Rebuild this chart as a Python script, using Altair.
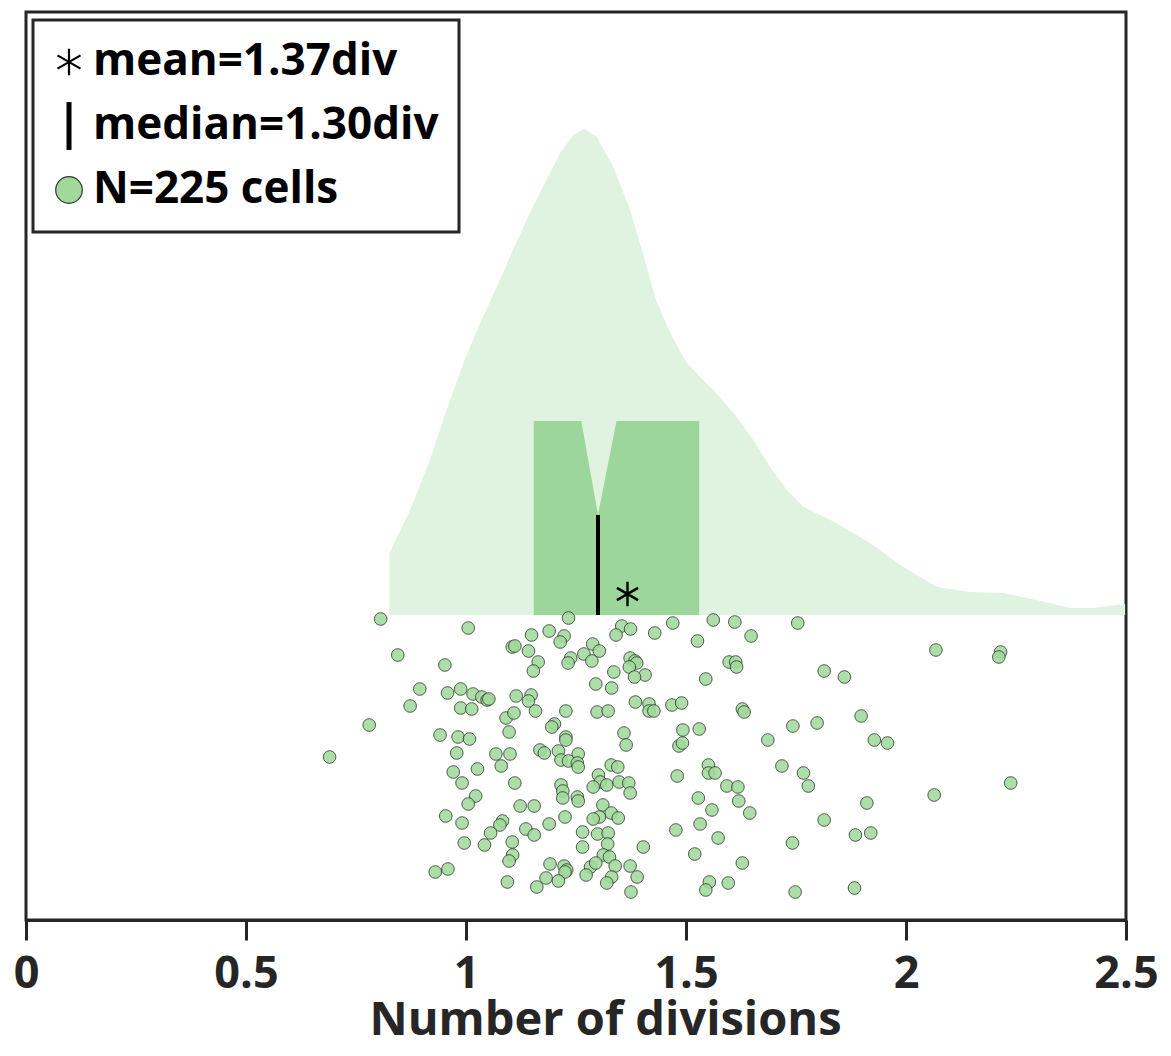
import altair as alt
import pandas as pd

# ---------------- data ----------------
point_x = [0.806, 1.005, 1.105, 1.111, 0.845, 0.952, 0.895, 0.958, 0.988, 1.016,
           1.036, 1.048, 1.052, 1.114, 0.873, 0.988, 1.013, 1.091, 1.109, 0.780,
           0.941, 0.982, 1.008, 1.098, 0.690, 0.979, 1.068, 1.100, 1.080, 0.971,
           1.026, 0.991, 1.111, 1.022, 1.005, 0.954, 0.991, 1.083, 1.077, 1.056,
           0.996, 1.042, 1.105, 1.106, 1.098, 0.930, 0.959, 1.094, 1.123, 1.233,
           1.189, 1.149, 1.223, 1.214, 1.354, 1.374, 1.341, 1.470, 1.429, 1.562,
           1.526, 1.142, 1.164, 1.153, 1.238, 1.232, 1.268, 1.288, 1.303, 1.286,
           1.373, 1.384, 1.388, 1.371, 1.336, 1.407, 1.383, 1.295, 1.331, 1.545,
           1.148, 1.142, 1.158, 1.227, 1.298, 1.323, 1.385, 1.416, 1.416, 1.427,
           1.468, 1.490, 1.201, 1.195, 1.227, 1.359, 1.364, 1.493, 1.530, 1.484,
           1.492, 1.168, 1.178, 1.210, 1.255, 1.216, 1.233, 1.253, 1.255, 1.227,
           1.216, 1.220, 1.220, 1.253, 1.255, 1.330, 1.345, 1.301, 1.305, 1.320,
           1.289, 1.348, 1.370, 1.373, 1.480, 1.551, 1.551, 1.566, 1.155, 1.189,
           1.225, 1.311, 1.330, 1.346, 1.303, 1.289, 1.528, 1.559, 1.532, 1.136,
           1.155, 1.265, 1.299, 1.323, 1.322, 1.265, 1.403, 1.477, 1.573, 1.520,
           1.312, 1.326, 1.339, 1.191, 1.223, 1.229, 1.225, 1.283, 1.295, 1.373,
           1.389, 1.182, 1.210, 1.273, 1.331, 1.320, 1.161, 1.375, 1.553, 1.545,
           1.611, 1.754, 1.648, 1.598, 1.613, 1.615, 1.814, 1.860, 2.068, 2.215,
           2.211, 1.628, 1.632, 1.898, 1.743, 1.798, 1.686, 1.928, 1.958, 1.718,
           1.767, 1.778, 1.593, 1.618, 1.620, 1.645, 1.814, 1.911, 2.064, 2.238,
           1.742, 1.885, 1.920, 1.628, 1.596, 1.748, 1.883]
point_jitter = [-0.04, -0.13, -0.32, -0.31, -0.40, -0.50, -0.74, -0.78, -0.74, -0.79,
                -0.82, -0.85, -0.84, -0.81, -0.91, -0.93, -0.94, -1.03, -0.98, -1.10,
                -1.20, -1.22, -1.24, -1.17, -1.42, -1.38, -1.39, -1.39, -1.51, -1.57,
                -1.54, -1.68, -1.68, -1.81, -1.89, -2.01, -2.08, -2.06, -2.10, -2.18,
                -2.28, -2.30, -2.27, -2.40, -2.46, -2.57, -2.54, -2.67, -1.91, -0.03,
                -0.16, -0.20, -0.21, -0.27, -0.11, -0.14, -0.20, -0.08, -0.18, -0.05,
                -0.26, -0.36, -0.47, -0.56, -0.43, -0.48, -0.39, -0.29, -0.36, -0.46,
                -0.43, -0.46, -0.48, -0.52, -0.57, -0.60, -0.62, -0.69, -0.73, -0.64,
                -0.80, -0.86, -0.96, -0.96, -0.97, -0.96, -0.87, -0.89, -0.96, -0.96,
                -0.90, -0.88, -1.09, -1.12, -1.22, -1.18, -1.30, -1.15, -1.14, -1.31,
                -1.28, -1.35, -1.38, -1.36, -1.39, -1.45, -1.46, -1.48, -1.52, -1.25,
                -1.70, -1.76, -1.83, -1.82, -1.86, -1.50, -1.52, -1.60, -1.67, -1.70,
                -1.72, -1.67, -1.68, -1.78, -1.61, -1.50, -1.58, -1.58, -1.91, -2.09,
                -2.02, -1.90, -1.98, -2.03, -2.02, -2.04, -1.83, -1.95, -2.09, -2.14,
                -2.20, -2.17, -2.19, -2.18, -2.29, -2.32, -2.32, -2.15, -2.23, -2.39,
                -2.40, -2.42, -2.51, -2.49, -2.51, -2.55, -2.57, -2.52, -2.48, -2.51,
                -2.62, -2.63, -2.66, -2.60, -2.62, -2.68, -2.72, -2.77, -2.67, -2.75,
                -0.07, -0.08, -0.21, -0.47, -0.47, -0.52, -0.56, -0.62, -0.35, -0.37,
                -0.42, -0.94, -0.97, -1.01, -1.11, -1.08, -1.25, -1.25, -1.28, -1.51,
                -1.58, -1.71, -1.71, -1.72, -1.86, -1.98, -2.05, -1.88, -1.80, -1.68,
                -2.28, -2.20, -2.18, -2.48, -2.68, -2.77, -2.73]

density_x = [0.826, 0.873, 0.918, 0.956, 0.994, 1.032, 1.070, 1.107, 1.145, 1.183,
             1.214, 1.244, 1.268, 1.297, 1.335, 1.373, 1.395, 1.432, 1.464, 1.502,
             1.539, 1.577, 1.615, 1.653, 1.691, 1.729, 1.767, 1.842, 1.918, 1.994,
             2.070, 2.145, 2.221, 2.297, 2.373, 2.426, 2.498]
density_y = [0.62, 1.05, 1.55, 2.05, 2.52, 2.92, 3.28, 3.65, 4.02, 4.35,
             4.62, 4.80, 4.86, 4.78, 4.48, 4.05, 3.72, 3.15, 2.82, 2.52,
             2.35, 2.18, 1.98, 1.75, 1.48, 1.25, 1.08, 0.92, 0.72, 0.48,
             0.28, 0.23, 0.22, 0.15, 0.07, 0.07, 0.11]

q1, q3 = 1.154, 1.530
median_val = 1.30
notch_lo, notch_hi = 1.262, 1.342
box_top = 1.94
notch_tip = 1.00
mean_val = 1.367
mean_y = 0.21

legend_labels = ["mean=1.37div", "median=1.30div", "N=225 cells"]
tick_values = [0, 0.5, 1, 1.5, 2, 2.5]
x_title = "Number of divisions"

# ---------------- styling ----------------
DENSITY_COLOR = "#e0f2e0"
BOX_COLOR = "#9cd69a"
POINT_FILL = "#a0d99b"
FRAME = "#262626"
FONT = "Open Sans"

ASTERISK = "M0,-1L0,1M-0.866,-0.5L0.866,0.5M-0.866,0.5L0.866,-0.5"
LEG_ASTERISK = "M0,-1L0,1M-0.866,-0.5L0.866,0.5M-0.866,0.5L0.866,-0.5"
LEG_BAR = "M0,-1.8L0,1.8"

x_scale = alt.Scale(domain=[0, 2.5], nice=False, zero=False)
y_scale = alt.Scale(domain=[-3.05, 6.03], nice=False, zero=False)

x_axis = alt.Axis(
    values=tick_values, format="~g", grid=False,
    domainColor=FRAME, domainWidth=3,
    tickColor=FRAME, tickWidth=3, tickSize=20,
    labelFont=FONT, labelFontSize=45, labelFontWeight="bold", labelColor=FRAME,
    labelPadding=11, labelFlush=False, labelOverlap=False,
    title=x_title, titleFont=FONT, titleFontSize=47, titleFontWeight="bold",
    titleColor=FRAME, titleX=579, titleY=114, titleBaseline="alphabetic",
    titleAlign="center",
)


def X(field="x"):
    return alt.X(f"{field}:Q", scale=x_scale, axis=x_axis)


def Y(field="y"):
    return alt.Y(f"{field}:Q", scale=y_scale, axis=None)


df_density = pd.DataFrame({"x": density_x, "y": density_y})
df_box = pd.DataFrame({
    "x": [q1, notch_lo, median_val, notch_hi, q3],
    "y": [box_top, box_top, notch_tip, box_top, box_top],
})
df_median = pd.DataFrame({"x": [median_val], "y": [notch_tip]})
df_mean = pd.DataFrame({"x": [mean_val], "y": [mean_y]})
df_points = pd.DataFrame({"x": point_x, "y": point_jitter})
df_legend = pd.DataFrame({"entry": legend_labels, "x": [-1.0] * 3, "y": [0.0] * 3})

density = alt.Chart(df_density).mark_area(color=DENSITY_COLOR, opacity=1).encode(
    x=X(), y=Y(), y2=alt.datum(0)
)
box = alt.Chart(df_box).mark_area(color=BOX_COLOR, opacity=1).encode(
    x=X(), y=Y(), y2=alt.datum(0)
)
median_rule = alt.Chart(df_median).mark_rule(color="black", strokeWidth=4).encode(
    x=X(), y=Y(), y2=alt.datum(0)
)
mean_mark = alt.Chart(df_mean).mark_point(
    shape=ASTERISK, size=600, filled=False, stroke="black", strokeWidth=2.4, opacity=1
).encode(x=X(), y=Y())
points = alt.Chart(df_points).mark_circle(
    size=160, fill=POINT_FILL, fillOpacity=0.88, stroke="#1e1e1e",
    strokeOpacity=0.7, strokeWidth=1, opacity=1
).encode(x=X(), y=Y())

leg = alt.Legend(
    title=None, orient="none", legendX=7, legendY=8, padding=20, rowPadding=8,
    labelFont=FONT, labelFontSize=44, labelFontWeight="bold", labelColor="black",
    labelLimit=800, labelOffset=2, symbolOffset=-6, symbolSize=707,
    strokeColor=FRAME, fillColor="white",
)
legend_layer = alt.Chart(df_legend).mark_point(
    clip=True, size=707, opacity=1, filled=False
).encode(
    x=X(), y=Y(),
    shape=alt.Shape("entry:N", legend=leg,
                    scale=alt.Scale(domain=legend_labels,
                                    range=[LEG_ASTERISK, LEG_BAR, "circle"])),
    fill=alt.Fill("entry:N", legend=leg,
                  scale=alt.Scale(domain=legend_labels,
                                  range=["transparent", "transparent", POINT_FILL])),
    stroke=alt.Stroke("entry:N", legend=leg,
                      scale=alt.Scale(domain=legend_labels,
                                      range=["black", "black", "#333333"])),
    strokeWidth=alt.StrokeWidth("entry:N", legend=leg,
                                scale=alt.Scale(type="ordinal", domain=legend_labels,
                                                range=[2.2, 5, 1.2])),
)

chart = alt.layer(density, box, median_rule, mean_mark, points, legend_layer).properties(
    width=1100, height=908,
    padding={"left": 18, "top": 4, "right": 36, "bottom": 128},
    autosize=alt.AutoSizeParams(type="none"),
).configure_view(stroke=FRAME, strokeWidth=3)

try:
    chart.configure_legend(strokeWidth=3).save(
        "out.html", embed_options={"renderer": "svg", "actions": False})
except Exception:
    chart.save("out.html", embed_options={"renderer": "svg", "actions": False})
